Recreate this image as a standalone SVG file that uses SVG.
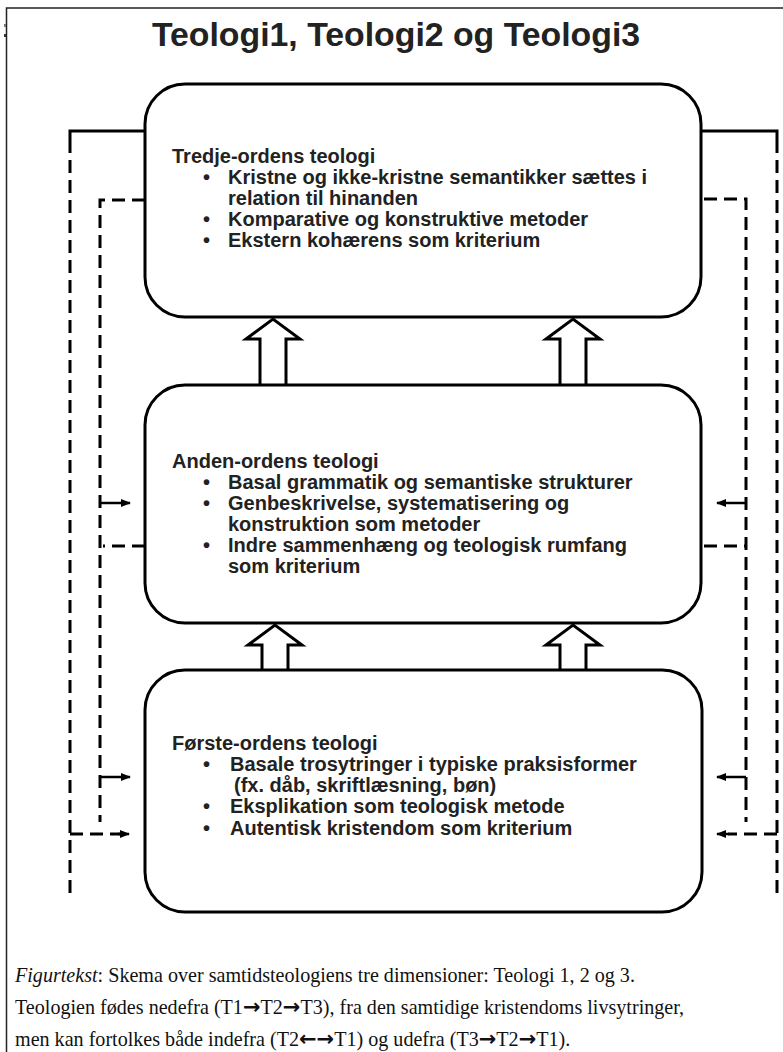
<svg xmlns="http://www.w3.org/2000/svg" width="783" height="1052" viewBox="0 0 783 1052">
<defs>
<marker id="ah" markerWidth="10" markerHeight="10" refX="9" refY="5" orient="auto" markerUnits="userSpaceOnUse">
<path d="M0,1 L10,5 L0,9 Z" fill="#000"/>
</marker>
<style>
.box{fill:#fff;stroke:#000;stroke-width:3}
.hol{fill:#fff;stroke:#000;stroke-width:3;stroke-linejoin:miter}
.sol{fill:none;stroke:#000;stroke-width:3}
.dash{fill:none;stroke:#000;stroke-width:3;stroke-dasharray:13 7}
.arr{fill:none;stroke:#000;stroke-width:2.5}
.h{font-family:"Liberation Sans",Arial,sans-serif;font-weight:bold;font-size:20px;fill:#222}
.t{font-family:"Liberation Sans",Arial,sans-serif;font-weight:bold;font-size:33.8px;fill:#222;text-anchor:middle}
.c{font-family:"Liberation Serif","Times New Roman",serif;font-size:20.1px;fill:#111}
.a{font-family:"DejaVu Sans",sans-serif;font-weight:bold;font-size:21px}
</style>
</defs>
<rect width="783" height="1052" fill="#fff"/>
<g id="frame">
<path d="M6.5,1052 V8 H783" fill="none" stroke="#222" stroke-width="1.5"/>
<rect x="4" y="24" width="2" height="3" fill="#777"/>
<rect x="4" y="34" width="2" height="3" fill="#333"/>
</g>
<g id="title"><text class="t" x="396" y="46">Teologi1, Teologi2 og Teologi3</text></g>
<g id="connectors">
<path class="sol" d="M145,131 H70 V140"/>
<path class="dash" d="M70,140 V900"/>
<path class="dash" d="M70,834 H120"/>
<path class="arr" d="M118,834 H129" marker-end="url(#ah)"/>
<path class="dash" d="M145,200 H100 V822"/>
<path class="dash" d="M145,546 H103"/>
<path class="arr" d="M100,503 H130" marker-end="url(#ah)"/>
<path class="arr" d="M100,777 H130" marker-end="url(#ah)"/>
<path class="sol" d="M701,131 H777 V140"/>
<path class="dash" d="M777,140 V900"/>
<path class="dash" d="M777,834 H728"/>
<path class="arr" d="M729,834 H717" marker-end="url(#ah)"/>
<path class="dash" d="M704,199 H746 V822"/>
<path class="dash" d="M704,546 H746"/>
<path class="arr" d="M746,503 H717" marker-end="url(#ah)"/>
<path class="arr" d="M746,777 H717" marker-end="url(#ah)"/>
<path class="hol" d="M260,385 V339 H246 L273,319 L300,339 H286 V385"/>
<path class="hol" d="M560,385 V339 H546 L573,319 L600,339 H586 V385"/>
<path class="hol" d="M262,670 V645 H248 L275,625 L302,645 H288 V670"/>
<path class="hol" d="M560,670 V645 H546 L573,625 L600,645 H586 V670"/>
</g>
<g id="node-t3">
<rect class="box" x="145" y="84" width="556" height="233" rx="40"/>
<text class="h" x="172" y="163">Tredje-ordens teologi</text>
<text class="h" x="203" y="184">•</text><text class="h" x="228" y="184">Kristne og ikke-kristne semantikker sættes i</text>
<text class="h" x="228" y="205">relation til hinanden</text>
<text class="h" x="203" y="226">•</text><text class="h" x="228" y="226">Komparative og konstruktive metoder</text>
<text class="h" x="203" y="247">•</text><text class="h" x="228" y="247">Ekstern kohærens som kriterium</text>
</g>
<g id="node-t2">
<rect class="box" x="145" y="385" width="556" height="238" rx="40"/>
<text class="h" x="172" y="468">Anden-ordens teologi</text>
<text class="h" x="203" y="489">•</text><text class="h" x="228" y="489">Basal grammatik og semantiske strukturer</text>
<text class="h" x="203" y="510">•</text><text class="h" x="228" y="510">Genbeskrivelse, systematisering og</text>
<text class="h" x="228" y="531">konstruktion som metoder</text>
<text class="h" x="203" y="552">•</text><text class="h" x="228" y="552">Indre sammenhæng og teologisk rumfang</text>
<text class="h" x="228" y="573">som kriterium</text>
</g>
<g id="node-t1">
<rect class="box" x="145" y="670" width="557" height="242" rx="40"/>
<text class="h" x="172" y="750">Første-ordens teologi</text>
<text class="h" x="203" y="771">•</text><text class="h" x="230" y="771">Basale trosytringer i typiske praksisformer</text>
<text class="h" x="234" y="792">(fx. dåb, skriftlæsning, bøn)</text>
<text class="h" x="203" y="813">•</text><text class="h" x="230" y="813">Eksplikation som teologisk metode</text>
<text class="h" x="203" y="835">•</text><text class="h" x="230" y="835">Autentisk kristendom som kriterium</text>
</g>
<g id="caption">
<text class="c" x="15" y="982"><tspan font-style="italic">Figurtekst</tspan>: Skema over samtidsteologiens tre dimensioner: Teologi 1, 2 og 3.</text>
<text class="c" x="15" y="1014">Teologien fødes nedefra (T1<tspan class="a">→</tspan>T2<tspan class="a">→</tspan>T3), fra den samtidige kristendoms livsytringer,</text>
<text class="c" x="15" y="1046">men kan fortolkes både indefra (T2<tspan class="a">←→</tspan>T1) og udefra (T3<tspan class="a">→</tspan>T2<tspan class="a">→</tspan>T1).</text>
</g>
</svg>
